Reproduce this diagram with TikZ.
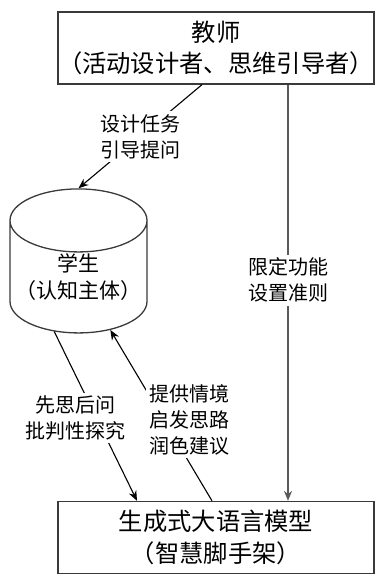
\documentclass[tikz,border=0pt]{standalone}
\usepackage{fontspec}
\setmainfont{Noto Sans CJK SC}
\usetikzlibrary{positioning, arrows.meta, shapes.geometric, calc}
\definecolor{fbBoxS}{HTML}{3A3A3A}
\definecolor{fbLine}{HTML}{5A5A5A}
\tikzset{
  fbBox/.style={rectangle, draw=fbBoxS, line width=1.3pt,
                minimum width=316pt, minimum height=72pt,
                align=center, font=\fontsize{24.3}{31.5}\selectfont, inner sep=0pt},
  fbCyl/.style={cylinder, shape border rotate=90, aspect=0.5, draw=fbBoxS,
                line width=1.3pt, minimum width=137pt, minimum height=144pt,
                align=center, font=\fontsize{21}{27}\selectfont, inner sep=0pt},
  fbArrow/.style={-{Stealth[length=10pt, width=8pt]}, line width=1.1pt},
  fbLabel/.style={fill=white, align=center, font=\fontsize{20}{26}\selectfont, inner sep=3pt},
}

\begin{document}
\begin{tikzpicture}[x=1pt, y=1pt]
  \useasboundingbox (0,0) rectangle (382,576);

  % ─── The three actors ─────────────────────────────────────────────────────────
  \node[fbBox]  (teacher) at (216,528)   {教师\\（活动设计者、思维引导者）};
  \node[fbCyl]  (student) at (78.5,299)  {学生\\（认知主体）};
  \node[fbBox]  (model)   at (216,38.5)  {生成式大语言模型\\（智慧脚手架）};

  % ─── Teacher to student, teacher to model ────────────────────────────────────
  \draw[fbArrow] (teacher.south -| 202,0) -- (student.north)
        node[fbLabel, midway] (design) {设计任务\\引导提问};
  \draw[fbArrow, draw=fbLine] (teacher.south -| 288,0) -- (model.north -| 288,0)
        node[fbLabel, pos=0.47] (limit) {限定功能\\设置准则};

  % ─── Student and model ───────────────────────────────────────────────────────
  \draw[fbArrow] (student.-114) -- (model.north -| 137,0);
  \node[fbLabel] (think) at (75,158) {先思后问\\批判性探究};
  \draw[fbArrow] (model.north -| 212,0) -- (student.-59);
  \node[fbLabel] (scaffold) at (189,156) {提供情境\\启发思路\\润色建议};

\end{tikzpicture}
\end{document}
